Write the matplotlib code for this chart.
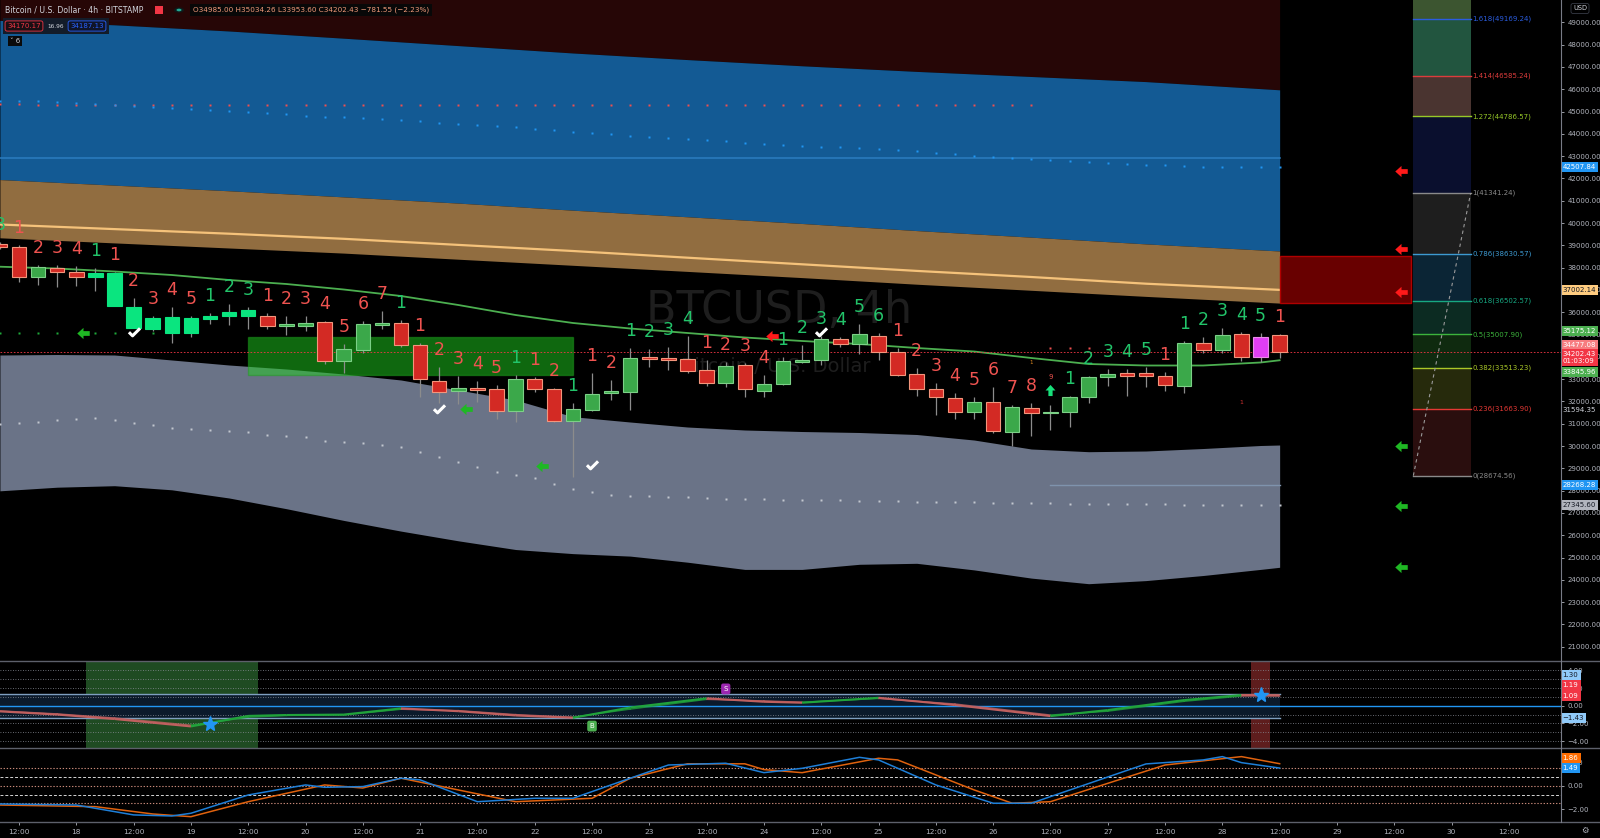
import matplotlib
matplotlib.use("Agg")
import matplotlib.pyplot as plt
import matplotlib.path as mpath
from matplotlib.patches import Rectangle, Circle
from matplotlib.lines import Line2D
from matplotlib.transforms import blended_transform_factory

# ---------------- data (BTCUSD 4h, bar 0 = 17th 12:00) ----------------
bars = list(range(-1, 67))
opens = [39059, 38911, 37566, 37969, 37817, 37593, 37745, 36248, 35234, 35772, 35082, 35709, 35844, 35830,
         35844, 35396, 35396, 35548, 33799, 34306, 35441, 35503, 34544, 32916, 32481, 32616, 32544, 31570,
         32992, 32571, 31136, 31616, 32364, 32436, 33979, 33934, 33889, 33409, 32813, 33620, 32454, 32768,
         33782, 33858, 34786, 34575, 34947, 34230, 33216, 32544, 32167, 31539, 31961, 30642, 31719, 31468,
         31539, 32212, 33082, 33261, 33261, 33154, 32705, 34633, 34306, 35010, 34006, 34985.00]
highs = [39150, 39014, 38117, 38117, 38073, 37969, 37817, 36651, 35830, 36248, 35830, 35978, 36355, 36220,
         35978, 35830, 35830, 35620, 34575, 35620, 36055, 35651, 34633, 33530, 33140, 32930, 32737, 33185,
         33109, 32589, 31943, 33261, 32961, 34382, 34337, 34454, 34934, 33858, 33782, 33709, 33185, 33979,
         34530, 34934, 34875, 35472, 35055, 34382, 33485, 32813, 32364, 32212, 32660, 31840, 31916, 31840,
         32243, 33140, 33467, 33440, 33530, 33306, 34710, 34902, 35279, 35127, 35055, 35034.26]
lows = [38850, 37368, 37221, 37117, 37176, 36965, 36279, 35279, 35171, 34606, 34875, 35472, 35414, 35234,
        35248, 34992, 35171, 33678, 33261, 34185, 35234, 34454, 32212, 31916, 31885, 31988, 31199, 31091,
        32436, 31091, 28611, 31584, 32064, 31616, 33530, 33409, 33261, 32692, 32660, 32212, 32212, 32737,
        33709, 33633, 34454, 34127, 33858, 33140, 32243, 31391, 31199, 31199, 30571, 30001, 30450, 30719,
        30867, 31916, 32692, 32257, 32633, 32467, 32364, 34185, 34185, 33812, 33781, 33953.60]
closes = [38911, 37566, 38014, 37817, 37593, 37745, 36279, 35279, 35727, 35055, 35727, 35844, 36023, 36100,
          35396, 35472, 35530, 33799, 34351, 35458, 35530, 34544, 32992, 32436, 32616, 32526, 31570, 32992,
          32544, 31136, 31674, 32347, 32481, 33934, 33902, 33844, 33378, 32813, 33588, 32544, 32781, 33812,
          33858, 34786, 34575, 35010, 34203, 33185, 32544, 32185, 31539, 31961, 30674, 31737, 31468, 31539,
          32212, 33109, 33230, 33154, 33154, 32737, 34633, 34306, 34979, 34006, 34902, 34202.43]
candle_color = ("rrgrr" + "lllllllll" + "rggrgggrrrgrrgrrgggg" + "rrrrgrgggg" + "rgrrrrrgrg"
                + "rggggrrrgr" + "grmr")
count_text = ["3", "1", "2", "3", "4", "1", "1", "2", "3", "4", "5", "1", "2", "3",
              "1", "2", "3", "4", "5", "6", "7", "1", "1", "2", "3", "4", "5", "1",
              "1", "2", "1", "1", "2", "1", "2", "3", "4", "1", "2", "3", "4",
              "1", "2", "3", "4", "5", "6", "1", "2", "3", "4", "5", "6", "7", "8", "",
              "1", "2", "3", "4", "5", "1", "1", "2", "3", "4", "5", "1"]
count_color = ("grrrrgrrrrrggg" + "rrrrrrr" + "g" + "rrrrr" + "g" + "rr" + "g" + "rr" + "gggg"
               + "rrrr" + "gggggg" + "rrrrrrrr" + "r" + "ggggg" + "r" + "ggggg" + "r")

# smooth bands (sampled once a day)
band_x = [-1, 5, 11, 17, 23, 29, 35, 41, 47, 53, 59, 66]
upper_top = [49085, 48888, 48610, 48287, 47955, 47624, 47328, 47050, 46798, 46570, 46341, 45973]
mid_top = [41947, 41696, 41445, 41171, 40893, 40574, 40279, 39978, 39660, 39364, 39063, 38745]
mid_line = [39933, 39727, 39521, 39292, 39019, 38745, 38445, 38149, 37853, 37579, 37279, 37002.14]
mid_bot = [39337, 39108, 38880, 38651, 38377, 38104, 37830, 37552, 37256, 36983, 36710, 36409]

# wavier series (sampled every 12h)
wave_x = [-1, 2, 5, 8, 11, 14, 17, 20, 23, 26, 29, 32, 35, 38, 41, 44, 47, 50, 53, 56, 59, 62, 65, 66]
low_top = [34082, 34104, 34082, 33858, 33633, 33454, 33230, 32961, 32512, 32064, 31315, 31077,
           30853, 30719, 30651, 30607, 30517, 30270, 29867, 29746, 29777, 29889, 30024, 30046]
low_bot = [27992, 28154, 28221, 28037, 27670, 27190, 26665, 26185, 25750, 25360, 25176, 25064,
           24791, 24468, 24468, 24697, 24741, 24446, 24078, 23827, 23966, 24195, 24468, 24563]
ma_line = [38041, 37960, 37826, 37669, 37445, 37265, 37019, 36727, 36324, 35875, 35517, 35270,
           35068, 34867, 34710, 34575, 34396, 34239, 33947, 33678, 33611, 33611, 33746, 33845.96]

blue_dots = [45470, 45470, 45450, 45420, 45380, 45340, 45290, 45240, 45190, 45150,
             45120, 45080, 45030, 44980, 44930, 44870, 44810, 44770, 44740, 44700,
             44660, 44620, 44570, 44500, 44450, 44400, 44350, 44290, 44220, 44150,
             44080, 44020, 43970, 43900, 43860, 43810, 43770, 43720, 43660, 43590,
             43540, 43500, 43450, 43420, 43390, 43360, 43300, 43260, 43220, 43150,
             43080, 43010, 42960, 42910, 42870, 42830, 42780, 42740, 42700, 42650,
             42610, 42580, 42550, 42530, 42520, 42510, 42505, 42507.84]
red_dots = [45330, 45320, 45310, 45300, 45300, 45290, 45290, 45290, 45290, 45290, 45290,
            45290, 45290, 45290, 45290, 45290, 45290, 45290, 45290, 45290, 45290, 45290,
            45290, 45290, 45290, 45290, 45290, 45290, 45290, 45290, 45290, 45290, 45290,
            45290, 45290, 45290, 45290, 45290, 45290, 45290, 45290, 45290, 45290, 45290,
            45290, 45290, 45290, 45290, 45290, 45290, 45290, 45290, 45290, 45290, 45290]
gray_dots = [30988, 31019, 31091, 31167, 31198, 31243, 31167, 31046, 30943, 30822, 30750,
             30719, 30674, 30616, 30508, 30450, 30392, 30240, 30168, 30123, 30046, 29943,
             29732, 29508, 29284, 29060, 28849, 28701, 28567, 28297, 28073, 27939, 27804,
             27773, 27759, 27728, 27701, 27656,
             27640, 27625, 27610, 27600, 27580, 27570, 27560, 27545, 27535, 27520, 27505,
             27490, 27480, 27470, 27460, 27445, 27435, 27425, 27415, 27405, 27400, 27390,
             27385, 27380, 27370, 27365, 27360, 27355, 27350, 27345.60]
green_dot_x = [-1, 0, 1, 2, 4, 5, 6, 7]
green_dot_y = [35080, 35080, 35080, 35080, 35080, 35080, 35080, 35080]
red_dot2_x = [54, 55, 56]
red_dot2_y = [34410, 34410, 34410]

blue_level = 42910
steel_level = 28268.28
last_price = 34202.43

green_zone = (12, 29.03, 33207, 34903)
red_zone = (66, 72.9, 36400, 38535)

green_arrow_x = [3.35, 23.4, 27.4]
green_arrow_y = [35080, 31647, 29118]
red_arrow_x = [39.4]
red_arrow_y = [34934]
side_arrow_x = 72.36
side_red_y = [42346, 38821, 36920]
side_green_y = [30001, 27333, 24589]
check_x = [6, 22, 30, 42]
check_y = [35126, 31647, 29149, 35126]

fib_levels = ["0", "0.236", "0.382", "0.5", "0.618", "0.786", "1", "1.272", "1.414", "1.618"]
fib_prices = [28674.56, 31663.90, 33513.23, 35007.90, 36502.57, 38630.57, 41341.24, 44786.57, 46585.24, 49169.24]
fib_line_col = ["#8a8a8a", "#e53935", "#aac828", "#3cb43c", "#17a882", "#3d9ad1", "#8a8a8a", "#96c828", "#dc3c3c", "#2b5de0"]
fib_fill_col = ["#2a0e0e", "#262a0c", "#0f2a0f", "#0c2b22", "#0b2535", "#1e1e1e", "#0a0f2e", "#4a3430", "#22553f", "#3c5530"]

# oscillator pane 1
osc_x = [-1, 2, 5, 9, 12, 14, 17, 20, 23, 26, 29, 32, 36, 39, 41, 45, 49, 54, 57, 61, 64, 66]
wt_fast = [-0.64, -1.0, -1.5, -2.34, -1.15, -1.05, -1.0, -0.3, -0.62, -1.1, -1.36, -0.2,
           0.84, 0.45, 0.34, 0.9, 0.08, -1.17, -0.49, 0.64, 1.21, 1.19]
wt_slow = [-0.58, -0.92, -1.38, -2.2, -1.3, -1.1, -1.05, -0.4, -0.55, -1.0, -1.3, -0.38,
           0.72, 0.55, 0.4, 0.82, 0.2, -1.05, -0.62, 0.5, 1.1, 1.09]
# oscillator pane 2
blue_x = [-1, 3, 6, 8, 9, 12, 15, 16, 18, 20, 21, 24, 27, 29, 32, 34, 37, 39, 41, 44, 45, 48, 51, 53, 54, 59, 62, 63, 64, 66]
blue_osc = [-1.55, -1.64, -2.48, -2.57, -2.34, -0.79, 0.06, -0.14, -0.08, 0.63, 0.49, -1.36, -1.07, -1.07,
            0.63, 1.75, 1.9, 1.1, 1.47, 2.4, 2.18, 0.06, -1.49, -1.49, -0.93, 1.84, 2.18, 2.46, 1.95, 1.49]
orange_x = [-1, 4, 7, 9, 12, 16, 18, 20, 26, 30, 32, 35, 38, 39, 41, 45, 46, 50, 52, 54, 60, 64, 66]
orange_osc = [-1.64, -1.78, -2.4, -2.63, -1.36, 0.06, -0.2, 0.63, -1.36, -1.07, 0.63, 1.85, 1.85, 1.36,
              1.1, 2.32, 2.18, -0.36, -1.49, -1.36, 1.75, 2.46, 1.86]

day_ticks = list(range(0, 79, 3))
day_labels = ["12:00" if i % 2 == 0 else str(18 + i // 2) for i in range(len(day_ticks))]

# ---------------- figure ----------------
W, H = 1600, 838
fig = plt.figure(figsize=(16, 8.38), dpi=100, facecolor="black")
ax = fig.add_axes([0, 1 - 661 / H, 1561 / W, 661 / H])
ax1 = fig.add_axes([0, 1 - 748 / H, 1561 / W, 87 / H], sharex=ax)
ax2 = fig.add_axes([0, 1 - 822 / H, 1561 / W, 74 / H], sharex=ax)
for a in (ax, ax1, ax2):
    a.set_facecolor("black")
    for s in a.spines.values():
        s.set_visible(False)
    a.yaxis.tick_right()
    a.tick_params(axis="y", colors="#b2b5be", labelsize=5, length=2.5, pad=2, width=0.6)
ax.set_xlim(-0.995, 80.73)
ax.set_ylim(20361, 50000)
ax1.set_ylim(-4.78, 5.06)
ax2.set_ylim(-3.08, 3.19)
ax.tick_params(axis="x", bottom=False, labelbottom=False)
ax1.tick_params(axis="x", bottom=False, labelbottom=False)

ax.set_yticks(range(21000, 50000, 1000))
ax.set_yticklabels(["%.2f" % v for v in range(21000, 50000, 1000)])
ax1.set_yticks([4, 2, 0, -2, -4])
ax1.set_yticklabels(["4.00", "2.00", "0.00", "\u22122.00", "\u22124.00"])
ax2.set_yticks([2, 0, -2])
ax2.set_yticklabels(["2.00", "0.00", "\u22122.00"])
ax2.set_xticks(day_ticks)
ax2.set_xticklabels(day_labels)
ax2.tick_params(axis="x", colors="#b2b5be", labelsize=5.3, length=2, pad=3, width=0.6)

# bands
ax.fill_between(band_x, upper_top, 52000, color="#260606", lw=0, zorder=1)
ax.fill_between(band_x, mid_top, upper_top, color="#135a94", lw=0, zorder=1)
ax.fill_between(band_x, mid_bot, mid_top, color="#916d40", lw=0, zorder=1)
ax.fill_between(wave_x, low_bot, low_top, color="#6a7387", lw=0, zorder=1)
ax.plot([-1, 66], [blue_level, blue_level], color="#2b7dc0", lw=1.1, zorder=2)
ax.plot([54, 66], [steel_level, steel_level], color="#7f93ad", lw=1.0, zorder=2)
ax.plot(band_x, mid_line, color="#f5c27a", lw=1.6, zorder=2)

# watermark
ax.text(39.8, 36055, "BTCUSD, 4h", fontsize=32, color="#1e1e1e", ha="center", va="center", zorder=1.5)
ax.text(39.6, 33544, "Bitcoin / U.S. Dollar", fontsize=14, color="#1e1e1e", ha="center", va="center", zorder=1.5)

# dots
ax.plot(bars[:len(red_dots)], red_dots, "s", ms=2.0, color="#f05050", mec="none", zorder=3)
ax.plot(bars, blue_dots, "s", ms=2.0, color="#2196f3", mec="none", zorder=3)
ax.plot(bars, gray_dots, "s", ms=2.0, color="#c3c7cf", mec="none", zorder=3)
ax.plot(green_dot_x, green_dot_y, "s", ms=2.0, color="#1fa83a", mec="none", zorder=3)
ax.plot(red_dot2_x, red_dot2_y, "s", ms=2.0, color="#f05050", mec="none", zorder=3)

# zones
gz0, gz1, gzb, gzt = green_zone
ax.add_patch(Rectangle((gz0, gzb), gz1 - gz0, gzt - gzb, fc="#1fd01f", alpha=0.5, ec="#1e9e1e", lw=1, zorder=2.5))
rz0, rz1, rzb, rzt = red_zone
ax.add_patch(Rectangle((rz0, rzb), rz1 - rz0, rzt - rzb, fc="#680000", ec="#b00000", lw=1, zorder=2.5))

# fib retracement
tops = fib_prices[1:] + [52000]
for p, t, fc in zip(fib_prices, tops, fib_fill_col):
    ax.add_patch(Rectangle((73, p), 3, t - p, fc=fc, ec="none", zorder=2))
for lv, p, c in zip(fib_levels, fib_prices, fib_line_col):
    ax.plot([73, 76], [p, p], color=c, lw=1, zorder=3)
    ax.text(76.1, p, "%s(%.2f)" % (lv, p), color=c, fontsize=5, va="center", ha="left", zorder=3)
ax.plot([73, 76], [fib_prices[0], fib_prices[6]], color="#9a9a9a", lw=0.8, ls=(0, (3, 3)), zorder=3)

# moving average
ax.plot(wave_x, ma_line, color="#4caf50", lw=1.3, zorder=4)

# current price line
ax.axhline(last_price, color="#f23645", lw=0.6, ls=(0, (2, 2)), zorder=4)

# candles
face = {"r": "#d32a24", "g": "#3ba84a", "l": "#0ae57f", "m": "#e03ef4"}
edge = {"r": "#f3957c", "g": "#7cd087", "l": "#0ae57f", "m": "#e88be8"}
for b, o, h, l, c, k in zip(bars, opens, highs, lows, closes, candle_color):
    ax.vlines(b, l, h, color="#8c8c8c", lw=0.9, zorder=5)
    lo, hi = min(o, c), max(o, c)
    hi = max(hi, lo + 70)
    ax.add_patch(Rectangle((b - 0.38, lo), 0.76, hi - lo, fc=face[k], ec=edge[k], lw=0.8, zorder=6))

lab_col = {"r": "#ef5350", "g": "#22c46a"}
for b, h, t, k in zip(bars, highs, count_text, count_color):
    if t:
        ax.annotate(t, (b, h), xytext=(0, 12.2), textcoords="offset points", ha="center", va="center",
                    fontsize=12.5, color=lab_col[k], zorder=8)
ax.annotate("9", (54, 31840), xytext=(0, 20), textcoords="offset points", ha="center", va="center",
            fontsize=5, color="#ef5350", zorder=8)
ax.text(53, 33768, "1", fontsize=4, color="#e08a20", ha="center", va="center", zorder=8)
ax.text(64, 31930, "1", fontsize=4.5, color="#d03030", ha="center", va="center", zorder=8)

# arrows and checks
left_arrow = mpath.Path([(-1, 0), (0, 0.9), (0, 0.38), (1, 0.38), (1, -0.38), (0, -0.38), (0, -0.9), (-1, 0)])
up_arrow = mpath.Path([(0, 1), (0.9, 0), (0.38, 0), (0.38, -1), (-0.38, -1), (-0.38, 0), (-0.9, 0), (0, 1)])
check = mpath.Path([(-1, 0.05), (-0.35, -0.6), (1, 0.75)], [mpath.Path.MOVETO, mpath.Path.LINETO, mpath.Path.LINETO])
ax.plot(green_arrow_x, green_arrow_y, ls="none", marker=left_arrow, ms=9, color="#1fb824", mec="none", zorder=8)
ax.plot(red_arrow_x, red_arrow_y, ls="none", marker=left_arrow, ms=9, color="#ff1a1a", mec="none", zorder=8)
ax.plot([side_arrow_x] * 3, side_red_y, ls="none", marker=left_arrow, ms=9, color="#ff1a1a", mec="none", zorder=8)
ax.plot([side_arrow_x] * 3, side_green_y, ls="none", marker=left_arrow, ms=9, color="#1fb824", mec="none", zorder=8)
ax.plot([54], [32512], ls="none", marker=up_arrow, ms=8, color="#17e07a", mec="none", zorder=8)
ax.plot(check_x, check_y, ls="none", marker=check, ms=8, mfc="none", mec="white", mew=2.2, zorder=8)

# ---------------- pane 1 ----------------
ax1.axvspan(3.5, 12.5, color="#1f4b22", lw=0, zorder=1)
ax1.axvspan(64.5, 65.5, color="#5e1d1d", lw=0, zorder=1)
ax1.fill_between([-1, 66], [-1.43, -1.43], [1.30, 1.30], color="#0b1a2b", lw=0, zorder=1.5)
for v in (4, 3, 2, 1, -1, -2, -3, -4):
    ax1.axhline(v, color="#8a8d96", lw=0.6, ls=(0, (1, 2)), zorder=2)
ax1.plot([-1, 66], [1.30, 1.30], color="#7f9fc0", lw=1, zorder=2.5)
ax1.plot([-1, 66], [-1.43, -1.43], color="#7f9fc0", lw=1, zorder=2.5)
ax1.axhline(0, color="#2196f3", lw=1, zorder=2.5)
for i in range(len(osc_x) - 1):
    c = "#21a33b" if wt_fast[i + 1] >= wt_fast[i] else "#c0605f"
    ax1.plot(osc_x[i:i + 2], wt_slow[i:i + 2], color=c, lw=1.0, alpha=0.8, zorder=3)
    ax1.plot(osc_x[i:i + 2], wt_fast[i:i + 2], color=c, lw=1.5, solid_capstyle="butt", zorder=4)
ax1.plot([10, 65], [-2.07, 1.21], ls="none", marker="*", ms=11, color="#2196f3", zorder=6)
ax1.text(30, -2.3, "B", fontsize=5, color="white", ha="center", va="center", zorder=6,
         bbox=dict(boxstyle="round,pad=0.35,rounding_size=0.3", fc="#4caf50", ec="none"))
ax1.text(37, 1.9, "S", fontsize=5, color="white", ha="center", va="center", zorder=6,
         bbox=dict(boxstyle="round,pad=0.35,rounding_size=0.3", fc="#9c27b0", ec="none"))

# ---------------- pane 2 ----------------
for v in (1.5, 0, -1.5):
    ax2.axhline(v, color="#c98a7a", lw=0.8, ls=(0, (1.2, 1.6)), zorder=2)
for v in (0.75, -0.75):
    ax2.axhline(v, color="#d6d6d6", lw=0.7, ls=(0, (3, 2)), zorder=2)
ax2.plot(orange_x, orange_osc, color="#e0620e", lw=1.1, zorder=3)
ax2.plot(blue_x, blue_osc, color="#1e7fd8", lw=1.1, zorder=4)


# ---------------- axis tags ----------------
def tag(a, y, text, fc, tc, dy=0):
    a.annotate(text, xy=(1.0, y), xycoords=blended_transform_factory(a.transAxes, a.transData),
               xytext=(1.2, dy), textcoords="offset points", ha="left", va="center", fontsize=5,
               color=tc, annotation_clip=False, zorder=20,
               bbox=dict(boxstyle="square,pad=0.3", fc=fc, ec="none"))


tag(ax, 42507.84, "42507.84", "#2196f3", "white")
tag(ax, 37002.14, "37002.14", "#ffcc80", "#131722")
tag(ax, 35175.12, "35175.12", "#4caf50", "white")
tag(ax, 34477.08, "34477.08", "#f77c80", "white", dy=1)
tag(ax, last_price, "34202.43\n01:03:09", "#f23645", "white", dy=-4)
tag(ax, 33845.96, "33845.96", "#4caf50", "white", dy=-8.5)
tag(ax, 31594.35, "31594.35", "#000000", "#d1d4dc")
tag(ax, 28268.28, "28268.28", "#2196f3", "white")
tag(ax, 27345.60, "27345.60", "#b2b5be", "#131722")
tag(ax1, 1.09, "1.09", "#f23645", "white")
tag(ax1, 1.19, "1.19", "#f23645", "white", dy=7)
tag(ax1, 1.30, "1.30", "#90caf9", "#131722", dy=14)
tag(ax1, -1.43, "\u22121.43", "#90caf9", "#131722")
tag(ax2, 1.86, "1.86", "#ff6d00", "white", dy=4)
tag(ax2, 1.49, "1.49", "#2196f3", "white")

# separators and axis line
for yy in (661, 748, 822):
    fig.add_artist(Line2D([0, 1], [1 - yy / H, 1 - yy / H], color="#5d606b", lw=1))
fig.add_artist(Line2D([1561 / W, 1561 / W], [1 - 822 / H, 1], color="#787b86", lw=0.8))
fig.text(1580 / W, 1 - 8.5 / H, "USD", fontsize=4.8, color="#d1d4dc", ha="center", va="center",
         bbox=dict(boxstyle="round,pad=0.3", fc="black", ec="#363a45", lw=0.6))
fig.text(1585 / W, 1 - 830 / H, "\u2699", fontsize=6, color="#b2b5be", ha="center", va="center")

# header / legend
fig.text(5 / W, 1 - 10 / H, "Bitcoin / U.S. Dollar \u00b7 4h \u00b7 BITSTAMP", fontsize=5.6,
         color="#d1d4dc", va="center", ha="left")
fig.add_artist(Rectangle((155 / W, 1 - 14 / H), 8 / W, 8 / H, fc="#f23645", ec="none"))
fig.add_artist(Circle((179 / W, 1 - 10 / H), 5 / W, fc="#0f1a1a", ec="none"))
fig.add_artist(Circle((179 / W, 1 - 10 / H), 2.5 / W, fc="#22ab94", ec="none"))
fig.text(193 / W, 1 - 10 / H, "O34985.00 H35034.26 L33953.60 C34202.43 \u2212781.55 (\u22122.23%)",
         fontsize=5.2, color="#ef9a7a", va="center", ha="left",
         bbox=dict(boxstyle="square,pad=0.35", fc="#080808", ec="none"))
fig.add_artist(Rectangle((3 / W, 1 - 34 / H), 106 / W, 16 / H, fc="#131c2a", ec="none"))
fig.text(24 / W, 1 - 26 / H, "34170.17", fontsize=5, color="#f23645", va="center", ha="center",
         bbox=dict(boxstyle="round,pad=0.3", fc="#1a0f14", ec="#f23645", lw=0.6))
fig.text(56 / W, 1 - 26 / H, "16.96", fontsize=4.2, color="#d1d4dc", va="center", ha="center")
fig.text(87 / W, 1 - 26 / H, "34187.13", fontsize=5, color="#2962ff", va="center", ha="center",
         bbox=dict(boxstyle="round,pad=0.3", fc="#0f1428", ec="#2962ff", lw=0.6))
fig.text(15 / W, 1 - 41 / H, "\u02c5 6", fontsize=5, color="#d1d4dc", va="center", ha="center",
         bbox=dict(boxstyle="square,pad=0.3", fc="#0a0a0a", ec="none"))

fig.savefig("out.png", dpi=100, facecolor="black")
